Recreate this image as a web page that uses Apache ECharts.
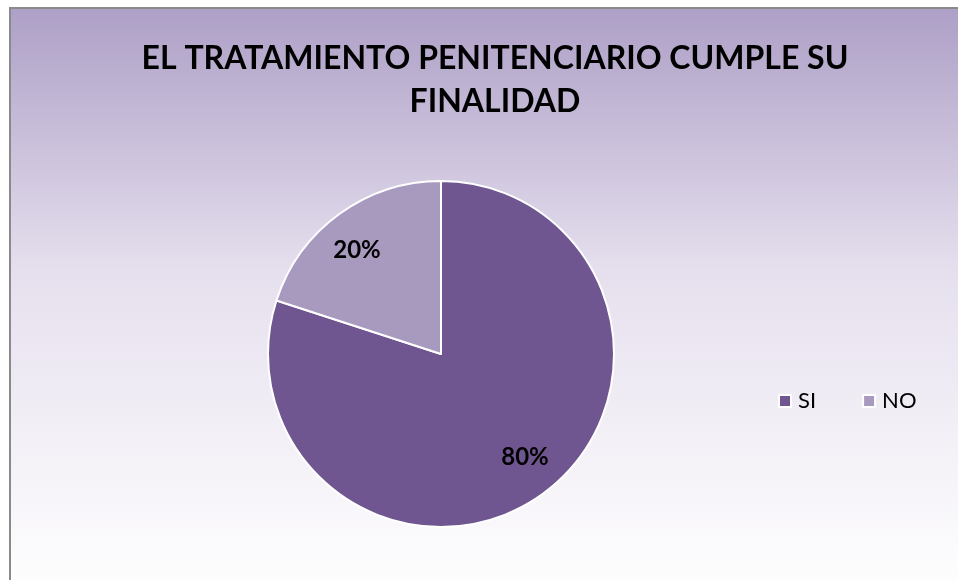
<!DOCTYPE html>
<html>
<head>
<meta charset="utf-8">
<script src="https://cdn.jsdelivr.net/npm/echarts@6/dist/echarts.min.js"></script>
<style>
  html, body { margin: 0; padding: 0; background: #ffffff; }
  #chart { width: 958px; height: 580px; }
</style>
</head>
<body>
<div id="chart"></div>
<script>
// Survey answers and their shares (%)
const categories = ['SI', 'NO'];
const shares = [80, 20];
const sliceColors = ['#705690', '#a899bf'];
const titleText = 'EL TRATAMIENTO PENITENCIARIO CUMPLE SU\nFINALIDAD';

const pieData = categories.map((name, i) => ({
  name: name,
  value: shares[i],
  itemStyle: { color: sliceColors[i] }
}));

const chart = echarts.init(document.getElementById('chart'), null, { renderer: 'canvas' });

const center = [441, 354];
const radius = 173;

chart.setOption({
  backgroundColor: '#ffffff',
  animation: false,
  graphic: [{
    type: 'rect',
    z: -10,
    silent: true,
    shape: { x: 10, y: 8, width: 960, height: 590 },
    style: {
      fill: new echarts.graphic.LinearGradient(0, 0, 0, 1, [
        { offset: 0, color: '#ad9fc6' },
        { offset: 0.45, color: '#e6e0ee' },
        { offset: 1, color: '#ffffff' }
      ]),
      stroke: '#8a8a8a',
      lineWidth: 2
    }
  }],
  title: {
    text: titleText,
    left: 490,
    top: 32,
    textAlign: 'center',
    textStyle: {
      fontFamily: 'Lato',
      fontWeight: 'bold',
      fontSize: 32,
      lineHeight: 43,
      color: '#000000'
    }
  },
  legend: {
    data: categories,
    left: 773,
    top: 385,
    orient: 'horizontal',
    itemWidth: 12,
    itemHeight: 12,
    itemGap: 46,
    icon: 'rect',
    textStyle: {
      fontFamily: 'Lato',
      fontSize: 22,
      color: '#000000',
      padding: [0, 0, 0, 2]
    },
    selectedMode: false
  },
  series: [
    {
      type: 'pie',
      center: center,
      radius: [0, radius],
      startAngle: 90,
      clockwise: true,
      silent: true,
      data: pieData,
      itemStyle: { borderColor: '#ffffff', borderWidth: 2 },
      label: { show: false },
      labelLine: { show: false }
    },
    {
      // transparent ring carrying the percentage labels
      type: 'pie',
      center: center,
      radius: [88, radius],
      startAngle: 93,
      clockwise: true,
      silent: true,
      legendHoverLink: false,
      data: categories.map((name, i) => ({
        name: name,
        value: shares[i],
        itemStyle: { color: 'rgba(0,0,0,0)' }
      })),
      label: {
        show: true,
        position: 'inside',
        formatter: (p) => p.value + '%',
        fontFamily: 'Lato',
        fontWeight: 'bold',
        fontSize: 24,
        color: '#000000'
      },
      labelLine: { show: false }
    }
  ]
});
</script>
</body>
</html>
